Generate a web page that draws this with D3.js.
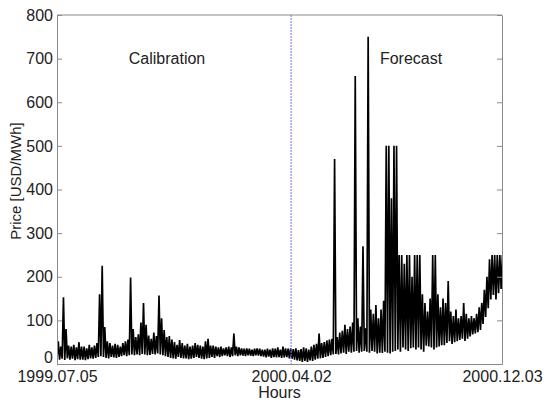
<!DOCTYPE html>
<html>
<head>
<meta charset="utf-8">
<script src="https://cdn.jsdelivr.net/npm/d3@7"></script>
<style>
  body { margin: 0; background: #fff; }
  text { font-family: "Liberation Sans", Arial, sans-serif; fill: #222; }
</style>
</head>
<body>
<div id="canvas"></div>
<script>
// price series in 3-day blocks: low and high of each block
const startDay = Date.UTC(1999, 6, 5),
    splitDay = Date.UTC(2000, 3, 2),
    endDay = Date.UTC(2000, 11, 3),
    blockDays = 3;

const lowPrice = [
    12, 10, 12, 9, 13, 10, 12, 9, 11, 10,
    10, 9, 11, 13, 12, 14, 16, 18, 16, 14,
    13, 16, 15, 14, 16, 18, 20, 18, 20, 22,
    20, 22, 20, 23, 22, 20, 21, 23, 22, 24,
    22, 20, 18, 16, 14, 13, 12, 16, 14, 13,
    13, 11, 12, 14, 16, 14, 12, 11, 13, 14,
    16, 14, 18, 16, 18, 20, 18, 16, 18, 20,
    18, 20, 19, 18, 20, 19, 18, 20, 19, 18,
    17, 15, 17, 14, 16, 15, 16, 14, 15, 16, 13,
    12, 10, 8, 7, 5, 7, 5, 8, 7,
    10, 12, 13, 14, 16, 18, 20, 22, 23, 22,
    24, 26, 23, 28, 26, 28, 30, 26, 28, 30,
    28, 26, 30, 28, 24, 26, 25, 28, 26, 24,
    28, 30, 33, 28, 38, 33, 30, 36, 38, 33,
    38, 33, 28, 42, 40, 38, 33, 38, 40, 43,
    43, 48, 52, 46, 50, 52, 55, 58, 53, 58,
    63, 68, 70, 73, 78, 92, 108, 128, 148, 158, 148, 162, 172
];
const highPrice = [
    52, 40, 153, 80, 42, 40, 44, 38, 50, 40,
    40, 36, 44, 38, 42, 48, 160, 225, 85, 52,
    48, 42, 46, 44, 40, 48, 52, 56, 198, 80,
    62, 68, 95, 140, 90, 65, 58, 72, 64, 157,
    105, 78, 62, 64, 56, 50, 44, 55, 48, 42,
    46, 40, 42, 48, 44, 42, 40, 52, 58, 42,
    42, 40, 38, 40, 36, 38, 40, 38, 70, 40,
    38, 36, 35, 36, 35, 33, 35, 36, 35, 33,
    33, 35, 33, 36, 35, 38, 33, 40, 36, 35, 36,
    34, 36, 32, 34, 38, 36, 33, 40, 44,
    46, 70, 48, 50, 54, 56, 58, 470, 62, 72,
    76, 90, 80, 86, 95, 660, 105, 86, 270, 82,
    750, 125, 115, 135, 105, 125, 145, 500, 500, 380,
    500, 500, 250, 250, 230, 250, 250, 200, 250, 250,
    250, 160, 140, 120, 150, 250, 250, 160, 130, 150,
    140, 190, 120, 110, 125, 105, 110, 140, 115, 105,
    110, 105, 115, 130, 140, 170, 200, 240, 250, 250, 250, 250, 250
];

const yTicks = [0, 100, 200, 300, 400, 500, 600, 700, 800];
const xTicks = [startDay, splitDay, endDay];
const xTickLabels = ["1999.07.05", "2000.04.02", "2000.12.03"];

const width = 544, height = 403;
const margin = {left: 57, top: 15, right: 42, bottom: 39};
const w = width - margin.left - margin.right,
    h = height - margin.top - margin.bottom;
const dayMs = 86400000;

// zigzag low -> high for every block gives the dense hourly look
let points = [];
lowPrice.forEach(function(lo, i) {
    let t = startDay + i * blockDays * dayMs;
    points.push([t, lo]);
    points.push([t + blockDays * dayMs / 2, highPrice[i]]);
});

let xScale = d3.scaleUtc()
    .domain([new Date(startDay), new Date(endDay)])
    .range([0, w]);
let yScale = d3.scaleLinear()
    .domain([0, 800])
    .range([h, 0]);

let svg = d3.select('#canvas').append('svg')
    .attr('width', width)
    .attr('height', height);

let g = svg.append('g')
    .attr('transform', 'translate(' + margin.left + ',' + margin.top + ')');

g.append('clipPath').attr('id', 'clip')
    .append('rect').attr('width', w).attr('height', h);

let line = d3.line()
    .x(function(d) { return xScale(new Date(d[0])); })
    .y(function(d) { return yScale(d[1]); });

g.append('path')
    .datum(points)
    .attr('clip-path', 'url(#clip)')
    .attr('fill', 'none')
    .attr('stroke', '#000')
    .attr('stroke-width', 1.7)
    .attr('stroke-linejoin', 'miter')
    .attr('d', line);

// calibration / forecast split
g.append('line')
    .attr('x1', xScale(new Date(splitDay))).attr('x2', xScale(new Date(splitDay)))
    .attr('y1', 0).attr('y2', h)
    .attr('stroke', '#7070ff')
    .attr('stroke-width', 1)
    .attr('stroke-dasharray', '2,1');

// axes, matlab style: ticks inside, box all around
let yLeft = g.append('g')
    .call(d3.axisLeft(yScale).tickValues(yTicks).tickSizeInner(-5).tickSizeOuter(0).tickPadding(4));
let yRight = g.append('g')
    .attr('transform', 'translate(' + w + ',0)')
    .call(d3.axisRight(yScale).tickValues(yTicks).tickSizeInner(-5).tickSizeOuter(0).tickFormat(''));
let xBottom = g.append('g')
    .attr('transform', 'translate(0,' + h + ')')
    .call(d3.axisBottom(xScale).tickValues(xTicks.map(function(d) { return new Date(d); }))
        .tickSizeInner(0).tickSizeOuter(0).tickPadding(4)
        .tickFormat(function(d, i) { return xTickLabels[i]; }));
g.append('line').attr('x1', 0).attr('x2', w).attr('y1', 0).attr('y2', 0);

g.selectAll('.domain, .tick line, g > line:not([stroke-dasharray])')
    .attr('stroke', '#8a8a8a');
g.selectAll('.tick text')
    .attr('fill', '#222')
    .style('font-size', '16px');
yLeft.selectAll('.tick text').filter(function(d) { return d === 0; })
    .attr('dy', '-0.1em');
xBottom.selectAll('.tick text').attr('dy', '0.85em');

g.append('text')
    .attr('x', w / 2).attr('y', h + 34)
    .attr('text-anchor', 'middle')
    .style('font-size', '16px')
    .text('Hours');

g.append('text')
    .attr('transform', 'translate(-36,' + (181 - margin.top) + ') rotate(-90)')
    .attr('text-anchor', 'middle')
    .style('font-size', '15px')
    .text('Price [USD/MWh]');

g.append('text')
    .attr('x', 167 - margin.left).attr('y', 64 - margin.top)
    .attr('text-anchor', 'middle')
    .style('font-size', '16px')
    .text('Calibration');
g.append('text')
    .attr('x', 411 - margin.left).attr('y', 64 - margin.top)
    .attr('text-anchor', 'middle')
    .style('font-size', '16px')
    .text('Forecast');
</script>
</body>
</html>
